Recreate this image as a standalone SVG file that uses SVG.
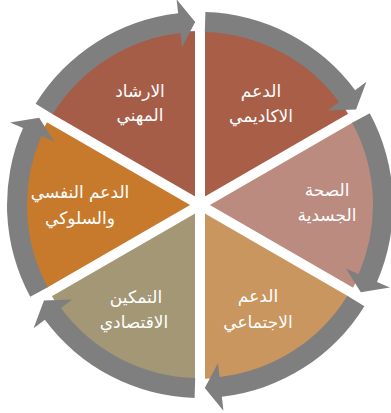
<svg xmlns="http://www.w3.org/2000/svg" xmlns:xlink="http://www.w3.org/1999/xlink" width="391" height="413" viewBox="0 0 391 413">
<style>
.lbl{font-family:"DejaVu Sans",sans-serif;font-size:17px;fill:#ffffff;text-anchor:middle}
.arrow{fill:#7f7f7f}
.gap{stroke:#ffffff;stroke-width:10;stroke-linecap:butt}
</style>
<defs>
<path id="arr" d="M205.39,12.08 A193,193 0 0 1 355.14,90.20 L366.40,81.87 L356.03,109.38 L327.81,110.42 L339.07,102.10 A173,173 0 0 0 204.83,32.07 Z"/>
</defs>
<rect width="391" height="413" fill="#ffffff"/>
<g id="n-irshad">
<path d="M200,205 L49.31,118 A174,174 0 0 1 200,31 Z" fill="#a65d48"/>
<text class="lbl" x="140" y="97">الارشاد</text>
<text class="lbl" x="140" y="121">المهني</text>
</g>
<g id="n-akadimi">
<path d="M200,205 L200,31 A174,174 0 0 1 350.69,118 Z" fill="#a85e47"/>
<text class="lbl" x="261" y="97">الدعم</text>
<text class="lbl" x="261" y="122">الاكاديمي</text>
</g>
<g id="n-sihha">
<path d="M200,205 L350.69,118 A174,174 0 0 1 350.69,292 Z" fill="#bb8b7f"/>
<text class="lbl" x="327" y="196">الصحة</text>
<text class="lbl" x="327" y="221">الجسدية</text>
</g>
<g id="n-ijtimai">
<path d="M200,205 L350.69,292 A174,174 0 0 1 200,379 Z" fill="#c9965f"/>
<text class="lbl" x="258" y="302">الدعم</text>
<text class="lbl" x="258" y="328">الاجتماعي</text>
</g>
<g id="n-tamkin">
<path d="M200,205 L200,379 A174,174 0 0 1 49.31,292 Z" fill="#a39776"/>
<text class="lbl" x="136" y="303">التمكين</text>
<text class="lbl" x="134" y="328">الاقتصادي</text>
</g>
<g id="n-nafsi">
<path d="M200,205 L49.31,292 A174,174 0 0 1 49.31,118 Z" fill="#c77a2c"/>
<text class="lbl" x="80" y="198">الدعم النفسي</text>
<text class="lbl" x="80" y="224">والسلوكي</text>
</g>
<g id="gaps">
<line class="gap" x1="200" y1="28" x2="200" y2="382"/>
<line class="gap" x1="46.7" y1="116.5" x2="353.3" y2="293.5"/>
<line class="gap" x1="46.7" y1="293.5" x2="353.3" y2="116.5"/>
</g>
<g id="connectors">
<use xlink:href="#arr" class="arrow" transform="rotate(-60 200 205)"/>
<use xlink:href="#arr" class="arrow"/>
<use xlink:href="#arr" class="arrow" transform="rotate(60 200 205)"/>
<use xlink:href="#arr" class="arrow" transform="rotate(120 200 205)"/>
<use xlink:href="#arr" class="arrow" transform="rotate(180 200 205)"/>
<use xlink:href="#arr" class="arrow" transform="rotate(240 200 205)"/>
</g>
</svg>
